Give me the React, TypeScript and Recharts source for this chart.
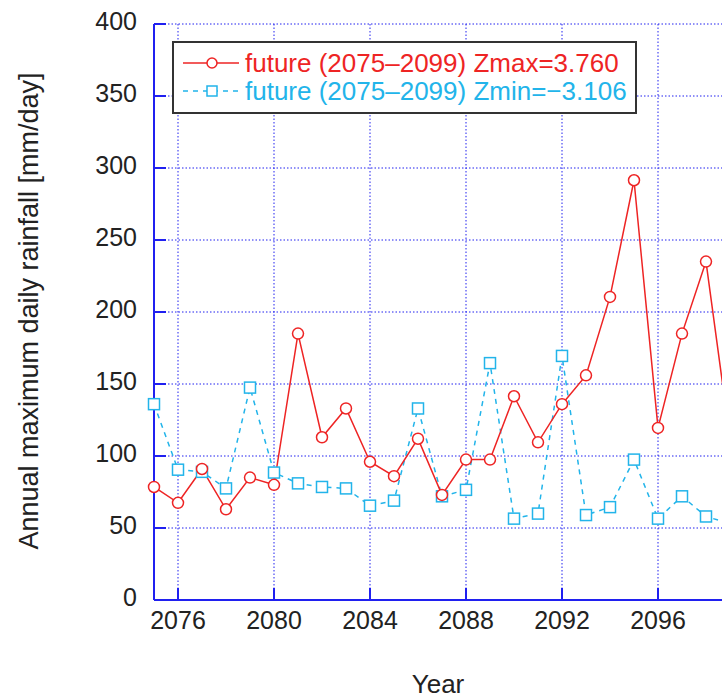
import React from "react";
import { CartesianGrid, Line, LineChart, XAxis, YAxis } from "recharts";

const years = [
  2075, 2076, 2077, 2078, 2079, 2080, 2081, 2082, 2083, 2084, 2085, 2086, 2087,
  2088, 2089, 2090, 2091, 2092, 2093, 2094, 2095, 2096, 2097, 2098, 2099,
];
const zmax = [
  78.5, 67.5, 91, 63, 85, 80, 185, 113, 133, 96, 86, 112, 73,
  97.5, 97.5, 141.5, 109.5, 136, 156, 210.5, 291.5, 119.5, 185, 235, 112,
];
const zmin = [
  136, 90.5, 89, 77.5, 147.5, 88.5, 81, 78.5, 77.5, 65.5, 69, 133, 72,
  76.5, 164.5, 56.5, 60, 169.5, 59, 64.5, 97.5, 56.5, 72, 58, 53,
];
const xTicks = [2076, 2080, 2084, 2088, 2092, 2096];
const yTicks = [0, 50, 100, 150, 200, 250, 300, 350, 400];
const seriesNames = [
  "future (2075\u20132099) Zmax=3.760",
  "future (2075\u20132099) Zmin=\u22123.106",
];

const data = years.map((year, i) => ({ year, zmax: zmax[i], zmin: zmin[i] }));

const AXIS = "#2020f0";
const RED = "#ee2424";
const CYAN = "#22b4ea";
const TEXT = "#222";
const FONT = '"Liberation Sans", Arial, sans-serif';

const BottomTick = (props: any) => {
  const { x, y, payload } = props;
  return (
    <g>
      <line x1={x} y1={y} x2={x} y2={y - 12} stroke={AXIS} strokeWidth={2} />
      <text x={x} y={y + 29} textAnchor="middle" fontSize={25} fill={TEXT} fontFamily={FONT}>
        {payload.value}
      </text>
    </g>
  );
};

const TopTick = (props: any) => {
  const { x, y } = props;
  return <line x1={x} y1={y} x2={x} y2={y + 12} stroke={AXIS} strokeWidth={2} />;
};

const LeftTick = (props: any) => {
  const { x, y, payload } = props;
  return (
    <g>
      <line x1={x} y1={y} x2={x + 12} y2={y} stroke={AXIS} strokeWidth={2} />
      <text x={x - 17} y={y + 6} textAnchor="end" fontSize={25} fill={TEXT} fontFamily={FONT}>
        {payload.value}
      </text>
    </g>
  );
};

const SquareDot = (props: any) => {
  const { cx, cy, index } = props;
  if (cx == null || cy == null) return <g key={index} />;
  return (
    <rect
      key={index}
      x={cx - 5.5}
      y={cy - 5.5}
      width={11}
      height={11}
      fill="#fff"
      stroke={CYAN}
      strokeWidth={1.5}
    />
  );
};

const LegendBox = () => (
  <div
    style={{
      position: "absolute",
      left: 172,
      top: 41,
      boxSizing: "border-box",
      width: 465,
      height: 73,
      border: "2px solid #333",
      background: "#fff",
      paddingTop: 6,
      paddingLeft: 9,
      fontFamily: FONT,
      fontSize: 26,
    }}
  >
    {seriesNames.map((name, i) => {
      const color = i === 0 ? RED : CYAN;
      return (
        <div key={name} style={{ display: "flex", alignItems: "center", height: 28 }}>
          <svg width={56} height={28} style={{ marginRight: 6, flex: "none" }}>
            <line
              x1={0}
              y1={14}
              x2={56}
              y2={14}
              stroke={color}
              strokeWidth={1.5}
              strokeDasharray={i === 0 ? undefined : "5 5"}
            />
            {i === 0 ? (
              <circle cx={29} cy={14} r={5} fill="#fff" stroke={color} strokeWidth={1.5} />
            ) : (
              <rect x={24} y={9} width={10} height={10} fill="#fff" stroke={color} strokeWidth={1.5} />
            )}
          </svg>
          <span style={{ color, whiteSpace: "nowrap", lineHeight: "28px" }}>{name}</span>
        </div>
      );
    })}
  </div>
);

const YTitle = () => (
  <text
    x={38}
    y={311}
    transform="rotate(-90, 38, 311)"
    textAnchor="middle"
    fontSize={27}
    fill={TEXT}
    fontFamily={FONT}
  >
    Annual maximum daily rainfall [mm/day]
  </text>
);

export default function App() {
  return (
    <div
      style={{
        position: "absolute",
        left: 0,
        top: 0,
        width: 722,
        height: 699,
        overflow: "hidden",
        background: "#fff",
      }}
    >
      <LineChart width={750} height={699} data={data} margin={{ top: 24, right: 20, left: 0, bottom: 0 }}>
        <CartesianGrid stroke={AXIS} strokeDasharray="1.5 2" strokeWidth={1} />
        <XAxis
          dataKey="year"
          type="number"
          domain={[2075, 2099]}
          ticks={xTicks}
          height={99}
          tickSize={0}
          tickMargin={0}
          tick={<BottomTick />}
          axisLine={{ stroke: AXIS, strokeWidth: 2 }}
          label={{ value: "Year", position: "insideBottom", offset: 6, dx: -4, fontSize: 26, fill: TEXT, fontFamily: FONT }}
        />
        <XAxis
          xAxisId="top"
          orientation="top"
          dataKey="year"
          type="number"
          domain={[2075, 2099]}
          ticks={xTicks}
          height={0}
          tickSize={0}
          tickMargin={0}
          tick={<TopTick />}
          axisLine={{ stroke: AXIS, strokeWidth: 2 }}
        />
        <YAxis
          type="number"
          domain={[0, 400]}
          ticks={yTicks}
          width={154}
          tickSize={0}
          tickMargin={0}
          tick={<LeftTick />}
          axisLine={{ stroke: AXIS, strokeWidth: 2 }}
          label={{ content: () => <YTitle /> }}
        />
        <Line
          type="linear"
          dataKey="zmin"
          stroke={CYAN}
          strokeWidth={1.5}
          strokeDasharray="5 5"
          dot={<SquareDot />}
          isAnimationActive={false}
        />
        <Line
          type="linear"
          dataKey="zmax"
          stroke={RED}
          strokeWidth={1.5}
          dot={{ r: 5.5, fill: "#fff", stroke: RED, strokeWidth: 1.5 }}
          isAnimationActive={false}
        />
      </LineChart>
      <LegendBox />
    </div>
  );
}
